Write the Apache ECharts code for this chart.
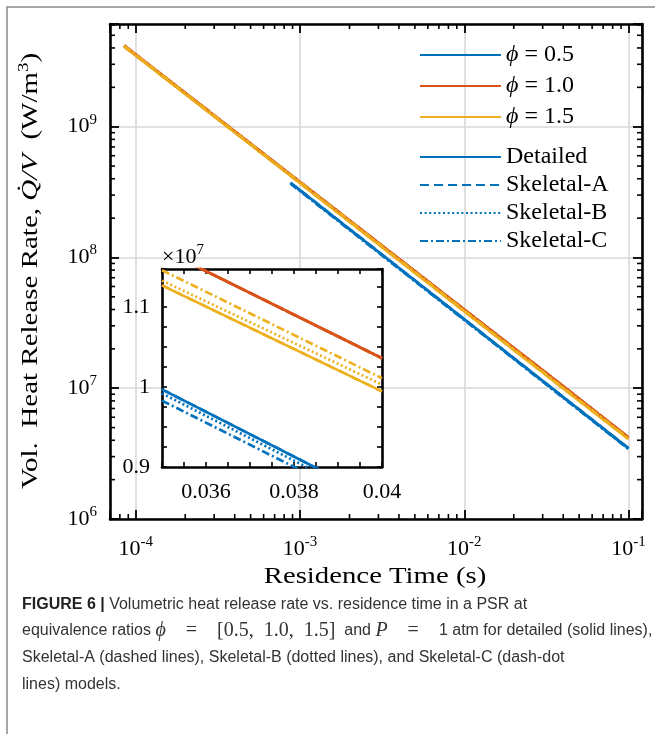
<!DOCTYPE html>
<html><head><meta charset="utf-8">
<script src="https://cdn.jsdelivr.net/npm/echarts@6/dist/echarts.min.js"></script>
<style>html,body{margin:0;padding:0;background:#fff;}#chart{width:655px;height:734px;}</style>
</head><body><div id="chart"></div>
<script>
// ---------------- data ----------------
// residence time (s)
const timeRich = [8.5e-5, 1e-3, 1e-2, 4e-2, 1e-1];   // phi = 1.0 and 1.5
const timeLean = [8.75e-4, 1e-2, 4e-2, 1e-1];        // phi = 0.5
// volumetric heat release rate (W/m^3)
const hrr05Detailed  = [3.73e8, 3.37e7, 8.57e6, 3.47e6];
const hrr05SkeletalA = [3.73e8, 3.37e7, 8.57e6, 3.47e6];
const hrr05SkeletalB = [3.71e8, 3.35e7, 8.52e6, 3.45e6];
const hrr05SkeletalC = [3.67e8, 3.32e7, 8.44e6, 3.42e6];
const hrr10Detailed  = [4.17e9, 3.78e8, 3.99e7, 1.036e7, 4.20e6];
const hrr10SkeletalA = [4.17e9, 3.78e8, 3.99e7, 1.036e7, 4.20e6];
const hrr10SkeletalB = [4.17e9, 3.78e8, 3.99e7, 1.036e7, 4.20e6];
const hrr10SkeletalC = [4.17e9, 3.78e8, 3.99e7, 1.036e7, 4.20e6];
const hrr15Detailed  = [4.10e9, 3.70e8, 3.87e7, 0.995e7, 4.08e6];
const hrr15SkeletalA = [4.10e9, 3.70e8, 3.87e7, 0.995e7, 4.08e6];
const hrr15SkeletalB = [4.13e9, 3.73e8, 3.90e7, 1.003e7, 4.11e6];
const hrr15SkeletalC = [4.16e9, 3.76e8, 3.93e7, 1.011e7, 4.14e6];
// inset: residence time (s) and HRR (x 1e7 W/m^3)
const insetTime = [0.035, 0.040];
const inset05Detailed  = [0.997, 0.857];
const inset05SkeletalA = [0.997, 0.857];
const inset05SkeletalB = [0.992, 0.852];
const inset05SkeletalC = [0.983, 0.845];
const inset10Detailed  = [1.172, 1.036];
const inset10SkeletalA = [1.172, 1.036];
const inset10SkeletalB = [1.172, 1.036];
const inset10SkeletalC = [1.172, 1.036];
const inset15Detailed  = [1.127, 0.9945];
const inset15SkeletalA = [1.127, 0.9945];
const inset15SkeletalB = [1.133, 1.003];
const inset15SkeletalC = [1.146, 1.011];
// tick labels
const xTickExponents = [-4, -3, -2, -1];
const yTickExponents = [6, 7, 8, 9];
const minorMultipliers = [2, 3, 4, 5, 6, 7, 8, 9];
const insetXTickLabels = ['0.036', '0.038', '0.04'];
const insetYTickLabels = ['0.9', '1', '1.1'];
const phiLabels = ['0.5', '1.0', '1.5'];
const modelLabels = ['Detailed', 'Skeletal-A', 'Skeletal-B', 'Skeletal-C'];

// ---------------- styling ----------------
const serif = "'Liberation Serif', 'Times New Roman', serif";
const sans = "'Liberation Sans', Arial, sans-serif";
const colors = ['#0072BD', '#D95319', '#EDB120'];
const dashTypes = ['solid', [9, 5], [2, 2.6], [8, 3, 2, 3]];
const LW = 2.7;
const xMin = 6.966e-5, xMax = 0.1207, yMin = 1e6, yMax = 6.10e9;

const mainSets = [
  [[timeLean, hrr05Detailed], [timeRich, hrr10Detailed], [timeRich, hrr15Detailed]],
  [[timeLean, hrr05SkeletalA], [timeRich, hrr10SkeletalA], [timeRich, hrr15SkeletalA]],
  [[timeLean, hrr05SkeletalB], [timeRich, hrr10SkeletalB], [timeRich, hrr15SkeletalB]],
  [[timeLean, hrr05SkeletalC], [timeRich, hrr10SkeletalC], [timeRich, hrr15SkeletalC]]
];
const insetSets = [
  [inset05Detailed, inset10Detailed, inset15Detailed],
  [inset05SkeletalA, inset10SkeletalA, inset15SkeletalA],
  [inset05SkeletalB, inset10SkeletalB, inset15SkeletalB],
  [inset05SkeletalC, inset10SkeletalC, inset15SkeletalC]
];

const series = [];
mainSets.forEach((set, m) => set.forEach(([t, v], p) => {
  series.push({
    type: 'line', xAxisIndex: 0, yAxisIndex: 0, symbol: 'none', silent: true, z: 2,
    data: t.map((x, i) => [x, v[i]]),
    lineStyle: { color: colors[p], width: LW, type: dashTypes[m], cap: 'butt' }
  });
}));
insetSets.forEach((set, m) => set.forEach((v, p) => {
  series.push({
    type: 'line', xAxisIndex: 2, yAxisIndex: 2, symbol: 'none', silent: true, z: 6, clip: true,
    data: insetTime.map((x, i) => [x, v[i]]),
    lineStyle: { color: colors[p], width: LW, type: dashTypes[m], cap: 'butt' }
  });
}));
// legend entries
const legendNames1 = phiLabels.map((l, i) => 'phi' + i);
const legendNames2 = modelLabels;
phiLabels.forEach((l, i) => series.push({
  type: 'line', name: 'phi' + i, data: [], symbol: 'none', symbolSize: 0, xAxisIndex: 0, yAxisIndex: 0,
  itemStyle: { color: colors[i], opacity: 0 }, lineStyle: { color: colors[i], width: LW, type: 'solid' }
}));
modelLabels.forEach((l, m) => series.push({
  type: 'line', name: l, data: [], symbol: 'none', symbolSize: 0, xAxisIndex: 0, yAxisIndex: 0,
  itemStyle: { color: colors[0], opacity: 0 }, lineStyle: { color: colors[0], width: LW, type: dashTypes[m], cap: 'butt' }
}));

// log minor ticks (2..9 x 10^k)
const xMinor = [], yMinor = [];
for (let k = -5; k <= 0; k++) minorMultipliers.forEach(m => { const v = m * Math.pow(10, k); if (v > xMin && v < xMax) xMinor.push([v, yMin]); });
for (let k = 5; k <= 10; k++) minorMultipliers.forEach(m => { const v = m * Math.pow(10, k); if (v > yMin && v < yMax) yMinor.push([xMin, v]); });
const tickStyle = { stroke: '#000', lineWidth: 1.6 };
series.push({
  type: 'custom', xAxisIndex: 0, yAxisIndex: 0, silent: true, clip: false, z: 4, data: xMinor,
  renderItem: (params, api) => {
    const b = api.coord([api.value(0), yMin]), t = api.coord([api.value(0), yMax]);
    return { type: 'group', children: [
      { type: 'line', shape: { x1: b[0], y1: b[1], x2: b[0], y2: b[1] - 5 }, style: tickStyle },
      { type: 'line', shape: { x1: t[0], y1: t[1], x2: t[0], y2: t[1] + 5 }, style: tickStyle }
    ]};
  }
});
series.push({
  type: 'custom', xAxisIndex: 0, yAxisIndex: 0, silent: true, clip: false, z: 4, data: yMinor,
  renderItem: (params, api) => {
    const l = api.coord([xMin, api.value(1)]), r = api.coord([xMax, api.value(1)]);
    return { type: 'group', children: [
      { type: 'line', shape: { x1: l[0], y1: l[1], x2: l[0] + 5, y2: l[1] }, style: tickStyle },
      { type: 'line', shape: { x1: r[0], y1: r[1], x2: r[0] - 5, y2: r[1] }, style: tickStyle }
    ]};
  }
});

function powLabel(list) {
  return v => {
    const e = Math.log10(v), r = Math.round(e);
    if (Math.abs(e - r) > 1e-6 || list.indexOf(r) < 0) return '';
    return '10{sup|' + r + '}';
  };
}
function listLabel(list) {
  return v => list.find(l => Math.abs(Number(l) - v) < 1e-9) || '';
}
const supRich = { sup: { fontFamily: serif, fontSize: 15, color: '#000', padding: [0, 0, 14, 0] } };
const axisLine = { show: true, onZero: false, lineStyle: { color: '#000', width: 2.6 } };
const majorTick = { show: true, inside: true, length: 9, lineStyle: { color: '#000', width: 1.8 } };
const insetTick = { show: true, inside: true, length: 5, lineStyle: { color: '#000', width: 1.6 } };
const grid = { show: true, lineStyle: { color: '#d9d9d9', width: 1.6 } };
const legendText = { fontFamily: serif, fontSize: 24, color: '#000', lineHeight: 24,
  rich: { i: { fontFamily: serif, fontStyle: 'italic', fontSize: 24 } } };

const option = {
  backgroundColor: '#fff',
  animation: false,
  grid: [
    { left: 110, top: 24, width: 532, height: 495, containLabel: false },
    { left: 162, top: 269, width: 220, height: 198, show: true, backgroundColor: '#fff', borderWidth: 0, z: 3 }
  ],
  legend: [
    { data: legendNames1, orient: 'vertical', left: 414, top: 38, itemWidth: 81, itemHeight: 14, itemGap: 7,
      formatter: n => '{i|ϕ} = ' + phiLabels[Number(n.slice(3))],
      itemStyle: { opacity: 0 }, textStyle: legendText, selectedMode: false },
    { data: legendNames2, orient: 'vertical', left: 414, top: 140, itemWidth: 81, itemHeight: 14, itemGap: 4,
      itemStyle: { opacity: 0 }, textStyle: legendText, selectedMode: false }
  ],
  xAxis: [
    { type: 'log', gridIndex: 0, min: xMin, max: xMax, position: 'bottom',
      axisLine: axisLine, axisTick: majorTick, splitLine: grid,
      axisLabel: { formatter: powLabel(xTickExponents), fontFamily: serif, fontSize: 22, color: '#000', margin: 16, rich: supRich } },
    { type: 'log', gridIndex: 0, min: xMin, max: xMax, position: 'top',
      axisLine: axisLine, axisTick: majorTick, splitLine: { show: false }, axisLabel: { show: false } },
    { type: 'value', gridIndex: 1, min: 0.035, max: 0.04, interval: 0.0005, position: 'bottom', z: 5,
      axisLine: axisLine, axisTick: insetTick, splitLine: { show: false },
      axisLabel: { formatter: listLabel(insetXTickLabels), fontFamily: serif, fontSize: 22, color: '#000', margin: 14 } },
    { type: 'value', gridIndex: 1, min: 0.035, max: 0.04, interval: 0.0005, position: 'top', z: 5,
      axisLine: axisLine, axisTick: insetTick, splitLine: { show: false }, axisLabel: { show: false } }
  ],
  yAxis: [
    { type: 'log', gridIndex: 0, min: yMin, max: yMax, position: 'left',
      axisLine: axisLine, axisTick: majorTick, splitLine: grid,
      axisLabel: { formatter: powLabel(yTickExponents), fontFamily: serif, fontSize: 22, color: '#000', margin: 13, rich: supRich } },
    { type: 'log', gridIndex: 0, min: yMin, max: yMax, position: 'right',
      axisLine: axisLine, axisTick: majorTick, splitLine: { show: false }, axisLabel: { show: false } },
    { type: 'value', gridIndex: 1, min: 0.9, max: 1.1475, interval: 0.025, position: 'left', z: 5,
      axisLine: axisLine, axisTick: insetTick, splitLine: { show: false },
      axisLabel: { formatter: listLabel(insetYTickLabels), fontFamily: serif, fontSize: 22, color: '#000', margin: 12 },
      name: '×10{s|7}', nameLocation: 'end', nameGap: -3,
      nameTextStyle: { fontFamily: serif, fontSize: 22, color: '#000', align: 'left', verticalAlign: 'bottom',
        rich: { s: { fontFamily: serif, fontSize: 15, padding: [0, 0, 14, 0] } } } },
    { type: 'value', gridIndex: 1, min: 0.9, max: 1.1475, interval: 0.025, position: 'right', z: 5,
      axisLine: axisLine, axisTick: insetTick, splitLine: { show: false }, axisLabel: { show: false } }
  ],
  series: series,
  graphic: [
    { type: 'polyline', shape: { points: [[7, 734], [7, 7], [655, 7]] }, style: { stroke: '#8a8a8a', lineWidth: 1.5, fill: null }, silent: true },
    // axis titles (stretched to the width of the original Computer Modern lettering)
    { type: 'text', x: 375, y: 577, scaleX: 1.25, silent: true, style: {
        text: 'Residence Time (s)', font: '23px ' + serif, fill: '#000', align: 'center', verticalAlign: 'middle' } },
    { type: 'text', x: 31, y: 271, rotation: Math.PI / 2, scaleX: 1.26, silent: true, style: {
        text: '{n|Vol.  Heat Release Rate, }{i|Q\u0307/V}{n|  (W/m}{s|3}{n|)}', font: '23px ' + serif, fill: '#000',
        align: 'center', verticalAlign: 'middle',
        rich: { n: { fontFamily: serif, fontSize: 23, fill: '#000' },
                i: { fontFamily: serif, fontSize: 23, fontStyle: 'italic', fill: '#000' },
                s: { fontFamily: serif, fontSize: 15, fill: '#000', padding: [0, 0, 14, 0] } } } },
    // figure caption
    { type: 'text', left: 22, top: 591, silent: true, style: {
        text: '{b|FIGURE 6 |} Volumetric heat release rate vs. residence time in a PSR at\n' +
              'equivalence ratios {m|ϕ}{r|    =    [0.5,  1.0,  1.5]}  and {m|P}{r|    =    }1 atm for detailed (solid lines),\n' +
              'Skeletal-A (dashed lines), Skeletal-B (dotted lines), and Skeletal-C (dash-dot\n' +
              'lines) models.',
        font: '16px ' + sans, fill: '#333', lineHeight: 26.7,
        rich: {
          b: { fontFamily: sans, fontWeight: 'bold', fontSize: 16, fill: '#222' },
          m: { fontFamily: serif, fontStyle: 'italic', fontSize: 20, fill: '#333' },
          r: { fontFamily: serif, fontSize: 20, fill: '#333' }
        } } }
  ]
};
const chart = echarts.init(document.getElementById('chart'), null, { renderer: 'canvas' });
chart.setOption(option);
</script></body></html>
